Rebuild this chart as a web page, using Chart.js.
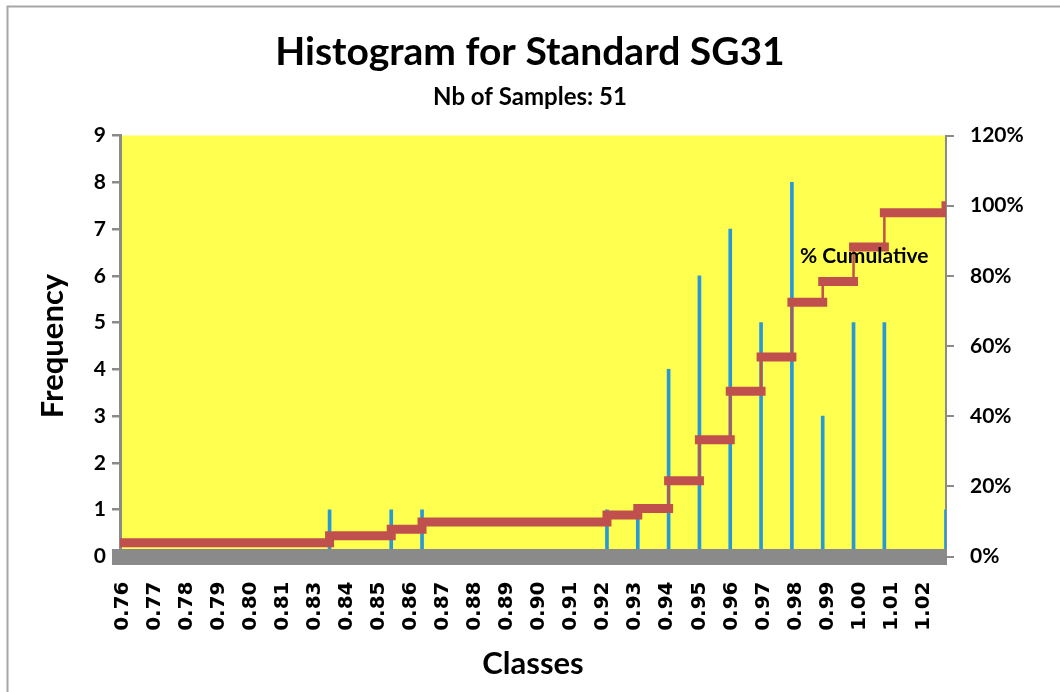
<!DOCTYPE html>
<html>
<head>
<meta charset="utf-8">
<script src="https://cdn.jsdelivr.net/npm/chart.js@4.4.1/dist/chart.umd.min.js"></script>
<style>
  body { margin: 0; background: #fff; }
  .wrap { width: 1060px; height: 692px; }
</style>
</head>
<body>
<div class="wrap"><canvas id="myChart" width="1060" height="692"></canvas></div>
<script>
// classes (bin centres) and how many samples fell in each
const classes = [0.76, 0.77, 0.78, 0.79, 0.80, 0.81, 0.82, 0.83, 0.84, 0.85,
                 0.86, 0.87, 0.88, 0.89, 0.90, 0.91, 0.92, 0.93, 0.94, 0.95,
                 0.96, 0.97, 0.98, 0.99, 1.00, 1.01, 1.02, 1.03];
const frequency = [2, 0, 0, 0, 0, 0, 0, 1, 0, 1,
                   1, 0, 0, 0, 0, 0, 1, 1, 4, 6,
                   7, 5, 8, 3, 5, 5, 0, 1];
// % cumulative
const cumulative = [3.9, 3.9, 3.9, 3.9, 3.9, 3.9, 3.9, 5.9, 5.9, 7.8,
                    9.8, 9.8, 9.8, 9.8, 9.8, 9.8, 11.8, 13.7, 21.6, 33.3,
                    47.1, 56.9, 72.5, 78.4, 88.2, 98.0, 98.0, 100];
// category labels printed under the axis
const tickLabels = ['0.76', '0.77', '0.78', '0.79', '0.80', '0.81', '0.83', '0.84', '0.85', '0.86',
                    '0.87', '0.88', '0.89', '0.90', '0.91', '0.92', '0.93', '0.94', '0.95', '0.96',
                    '0.97', '0.98', '0.99', '1.00', '1.01', '1.02'];
const freqTicks = [0, 1, 2, 3, 4, 5, 6, 7, 8, 9];
const pctTicks = [0, 20, 40, 60, 80, 100, 120];

const FONT = 'Lato, "Open Sans", sans-serif';
const GREY = '#8a8a8a';
const RED = '#c0504d';

// bars as {x,y}
const bars = classes.map((c, i) => ({ x: c, y: frequency[i] }));

// stepped cumulative line: each level runs from its class to the next one
const steps = [];
classes.forEach((c, i) => {
  if (i > 0) steps.push({ x: c, y: cumulative[i - 1] });
  steps.push({ x: c, y: cumulative[i] });
});
steps.push({ x: classes[classes.length - 1] + 0.01, y: cumulative[cumulative.length - 1] });

const bgPlugin = {
  id: 'bg',
  beforeDraw(chart) {
    const { ctx, chartArea: a } = chart;
    ctx.save();
    ctx.fillStyle = '#ffff4f';
    ctx.fillRect(a.left, a.top, a.right - a.left, a.bottom - a.top);
    // outer frame of the chart object
    ctx.strokeStyle = '#a6a6a6';
    ctx.lineWidth = 2;
    ctx.beginPath();
    ctx.moveTo(7.5, 692);
    ctx.lineTo(7.5, 6.5);
    ctx.lineTo(1060, 6.5);
    ctx.stroke();
    ctx.restore();
  },
  afterDraw(chart) {
    const { ctx, scales } = chart;
    ctx.save();
    ctx.font = 'bold 21px ' + FONT;
    ctx.fillStyle = '#000';
    ctx.textAlign = 'left';
    ctx.textBaseline = 'middle';
    ctx.fillText('% Cumulative', scales.x.getPixelForValue(0.9826), scales.y1.getPixelForValue(85.7));
    ctx.restore();
  }
};

var ctx = document.getElementById('myChart').getContext('2d');
var myChart = new Chart(ctx, {
  type: 'bar',
  data: {
    datasets: [{
      type: 'line',
      label: '% Cumulative',
      data: steps,
      xAxisID: 'x',
      yAxisID: 'y1',
      borderColor: RED,
      borderWidth: 9,
      borderCapStyle: 'square',
      pointRadius: 0,
      tension: 0,
      segment: {
        borderWidth: c => (c.p0.parsed.y === c.p1.parsed.y ? 9 : 2.5)
      },
      order: 0
    }, {
      label: 'Frequency',
      data: bars,
      xAxisID: 'x',
      yAxisID: 'y',
      backgroundColor: '#2899d8',
      borderWidth: 0,
      barThickness: 3,
      order: 1
    }]
  },
  options: {
    responsive: false,
    animation: false,
    layout: { padding: 0 },
    plugins: {
      legend: { display: false },
      tooltip: { enabled: false },
      title: {
        display: true,
        text: 'Histogram for Standard SG31',
        color: '#000',
        font: { family: FONT, size: 39, weight: 'bold' },
        padding: { top: 28.6, bottom: 4 }
      },
      subtitle: {
        display: true,
        text: 'Nb of Samples: 51',
        color: '#000',
        font: { family: FONT, size: 24, weight: 'bold' },
        padding: { top: 3.2, bottom: 24.1 }
      }
    },
    scales: {
      x: {
        type: 'linear',
        position: 'bottom',
        min: 0.762,
        max: 1.03,
        offset: false,
        weight: 0,
        ticks: { display: false },
        grid: { display: false, drawTicks: false, offset: false },
        border: { display: true, color: GREY, width: 16, z: 1 },
        afterFit: s => { s.height = 0; }
      },
      xl: {
        type: 'linear',
        position: 'bottom',
        min: -0.084,
        max: 25.70,
        offset: false,
        weight: 1,
        afterBuildTicks: s => { s.ticks = tickLabels.map((t, i) => ({ value: i })); },
        ticks: {
          autoSkip: false,
          minRotation: 90,
          maxRotation: 90,
          padding: 25,
          color: '#000',
          font: { family: '"DejaVu Sans", sans-serif', size: 20, weight: 'bold' },
          callback: (v, i) => tickLabels[i]
        },
        grid: { display: false, drawTicks: false, offset: false },
        border: { display: false },
        title: {
          display: true,
          text: 'Classes',
          color: '#000',
          font: { family: FONT, size: 31, weight: 'bold' },
          padding: { top: 0, bottom: 9 }
        },
        afterFit: s => { s.height = 135.5; }
      },
      y: {
        position: 'left',
        min: 0,
        max: 9,
        afterBuildTicks: s => { s.ticks = freqTicks.map(v => ({ value: v })); },
        ticks: {
          color: '#000',
          padding: 6,
          font: { family: FONT, size: 21, weight: 'bold' }
        },
        grid: { drawOnChartArea: false, color: GREY, lineWidth: 2.5, tickLength: 8 },
        border: { color: GREY, width: 3 },
        title: {
          display: true,
          text: 'Frequency',
          color: '#000',
          font: { family: FONT, size: 31, weight: 'bold' },
          padding: { top: 34, bottom: 0 }
        },
        afterFit: s => { s.width = 120; }
      },
      y1: {
        position: 'right',
        min: 0,
        max: 120,
        afterBuildTicks: s => { s.ticks = pctTicks.map(v => ({ value: v })); },
        ticks: {
          color: '#000',
          padding: 16,
          font: { family: FONT, size: 21, weight: 'bold' },
          callback: v => v + '%'
        },
        grid: { drawOnChartArea: false, color: GREY, lineWidth: 2, tickLength: 8 },
        border: { color: GREY, width: 2 },
        afterFit: s => { s.width = 114; }
      }
    }
  },
  plugins: [bgPlugin]
});
</script>
</body>
</html>
